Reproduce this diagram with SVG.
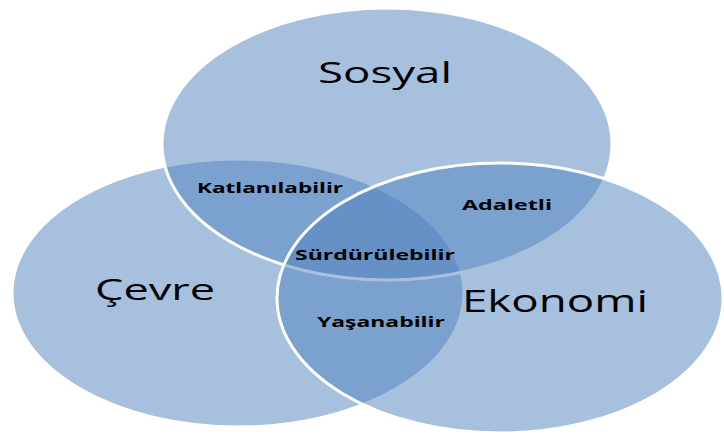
<svg xmlns="http://www.w3.org/2000/svg" width="724" height="435" viewBox="0 0 724 435">
<style>
.c{fill:#4F81BD;fill-opacity:0.5;stroke:#ffffff;stroke-width:3}
.big{font-family:"Open Sans","Noto Sans","Liberation Sans",sans-serif;fill:#000;font-size:30px}
.sm{font-family:"Open Sans","Noto Sans","Liberation Sans",sans-serif;fill:#000;font-size:15px;font-weight:bold}
</style>
<rect width="724" height="435" fill="#ffffff"/>
<g id="cevre"><ellipse class="c" cx="238" cy="293" rx="226" ry="134"/></g>
<g id="sosyal"><ellipse class="c" cx="387" cy="144" rx="225" ry="136"/></g>
<g id="ekonomi"><ellipse class="c" cx="500" cy="298" rx="223" ry="135"/></g>
<g id="labels">
<text class="big" x="318" y="83" textLength="134" lengthAdjust="spacingAndGlyphs">Sosyal</text>
<text class="big" x="95" y="300" textLength="120" lengthAdjust="spacingAndGlyphs">Çevre</text>
<text class="big" x="462" y="312" textLength="186" lengthAdjust="spacingAndGlyphs" style="font-size:31px">Ekonomi</text>
<text class="sm" x="197" y="193" textLength="146" lengthAdjust="spacingAndGlyphs">Katlanılabilir</text>
<text class="sm" x="462" y="210" textLength="90" lengthAdjust="spacingAndGlyphs">Adaletli</text>
<text class="sm" x="295" y="260" textLength="160" lengthAdjust="spacingAndGlyphs">Sürdürülebilir</text>
<text class="sm" x="317" y="327" textLength="128" lengthAdjust="spacingAndGlyphs">Yaşanabilir</text>
</g>
<g id="connectors"></g>
</svg>
